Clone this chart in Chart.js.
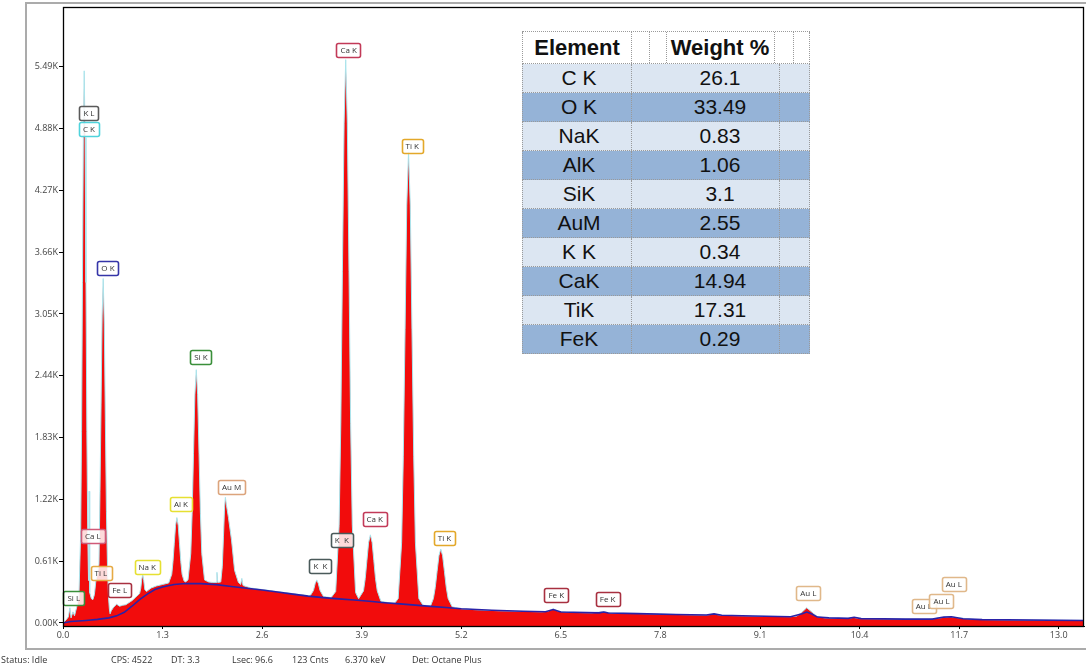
<!DOCTYPE html>
<html><head><meta charset="utf-8">
<script src="https://cdn.jsdelivr.net/npm/chart.js@4.4.0/dist/chart.umd.min.js"></script>
<style>
html,body{margin:0;padding:0;background:#fff;width:1086px;height:669px;overflow:hidden;font-family:"Open Sans",sans-serif;}
#frame{position:absolute;left:25px;top:2px;width:1080px;height:644px;border:2px solid #ababab;border-right:none;}
#c{position:absolute;left:0;top:0;}
#tbl{position:absolute;left:522px;top:31px;width:288px;height:323px;font-family:"Liberation Sans",Arial,sans-serif;color:#111;border-top:1px dotted #9a9a9a;box-sizing:border-box;}
.row{position:absolute;left:0;width:288px;border-bottom:1px dotted #9a9a9a;border-left:1px dotted #9a9a9a;border-right:1px dotted #9a9a9a;box-sizing:border-box;}
.cell{position:absolute;top:0;height:100%;display:flex;align-items:center;justify-content:center;}
.vl{position:absolute;top:0;height:100%;border-left:1px dotted #9a9a9a;}
.st{position:absolute;top:654px;font-size:9px;line-height:12px;color:#333;white-space:nowrap;}
</style></head>
<body>
<div id="frame"></div>
<canvas id="c" width="1086" height="669"></canvas>
<div id="tbl"></div>
<div id="status"></div>
<script>
// ---- spectrum (keV, counts) ----
const energyKeV = [
 0.00,0.04,0.07,0.09,0.105,0.13,0.15,0.18,0.20,
 0.208,0.231,0.2425,0.254,0.2655,0.277,0.2885,0.300,0.3115,0.323,0.333,
 0.338,0.341,0.345,0.352,0.37,0.39,
 0.41,0.43,0.452,0.47,0.483,0.497,0.511,0.525,0.539,0.553,0.567,0.581,0.595,0.605,0.615,
 0.63,0.66,0.70,0.74,0.78,0.82,0.86,0.90,0.95,1.00,
 1.015,1.028,1.041,1.054,1.068,1.09,1.15,1.22,1.30,1.38,
 1.42,1.436,1.453,1.470,1.487,1.504,1.521,1.538,1.555,1.58,1.60,
 1.632,1.668,1.686,1.704,1.722,1.740,1.758,1.776,1.794,1.812,1.848,1.90,1.95,2.00,2.01,2.02,
 2.06,2.08,2.095,2.11,2.12,2.135,2.16,2.20,2.24,2.29,2.32,2.335,2.35,2.45,2.60,2.80,3.00,3.20,
 3.23,3.27,3.293,3.313,3.333,3.356,3.40,3.50,
 3.56,3.605,3.627,3.648,3.670,3.691,3.712,3.734,3.755,3.777,3.82,3.86,
 3.923,3.946,3.968,3.990,4.013,4.036,4.058,4.080,4.103,4.15,4.25,4.33,
 4.376,4.421,4.443,4.466,4.488,4.511,4.534,4.556,4.579,4.601,4.646,4.70,4.80,
 4.836,4.860,4.884,4.908,4.932,4.956,4.980,5.004,5.028,5.08,
 5.20,5.40,5.70,6.00,6.25,6.33,6.40,6.47,6.60,6.90,7.06,7.15,7.40,7.80,8.10,8.40,8.50,8.60,8.90,9.20,9.50,
 9.58,9.64,9.71,9.78,9.85,9.95,10.25,10.32,10.40,10.70,11.00,11.30,11.44,11.58,11.70,11.90,12.30,12.70,13.00,13.33
];
const counts = [
 0,30,60,150,50,110,70,160,240,
 257,900,1890,3360,4790,5450,4790,3360,1890,900,420,
 600,1300,520,300,240,230,
 280,420,500,580,1300,2160,3030,3400,2950,2000,1100,550,250,140,90,
 120,155,185,165,175,180,200,220,255,290,
 340,430,480,420,330,310,345,365,380,395,
 480,605,787,964,1040,964,787,605,480,415,405,
 425,684,1083,1675,2252,2500,2252,1675,1083,684,425,405,400,400,500,400,
 405,560,850,1150,1240,1160,1040,820,520,400,380,440,370,345,330,310,290,270,
 272,320,390,425,390,320,262,250,
 310,963,1972,3471,4933,5560,4933,3471,1972,963,300,240,
 316,438,618,794,870,794,618,438,316,215,200,195,
 240,792,1640,2897,4124,4650,4124,2897,1640,792,240,175,170,
 241,349,508,663,730,663,508,349,241,160,
 140,130,120,115,110,115,140,115,105,100,112,98,95,88,82,78,88,75,70,65,62,
 68,100,150,105,62,50,45,55,43,40,38,36,50,62,50,35,30,28,26,25
];
// ---- fitted background ----
const bgEnergyKeV = [0.00,0.10,0.30,0.45,0.60,0.70,0.80,0.90,1.00,1.10,1.20,1.30,1.45,1.60,1.80,2.00,2.20,2.40,2.60,2.80,3.00,3.20,3.40,3.60,3.80,4.00,4.20,4.40,4.60,4.80,5.00,5.20,5.60,6.00,6.30,6.40,6.50,7.00,7.06,7.12,7.50,8.00,8.40,8.50,8.60,9.00,9.50,9.65,9.71,9.77,9.85,10.00,10.25,10.33,10.42,11.00,11.35,11.50,11.60,11.75,12.00,13.33];
const bgCounts    = [0,15,25,35,50,70,105,165,230,285,330,355,380,390,388,378,360,343,325,305,285,265,250,238,226,214,200,188,176,164,152,140,125,115,110,132,108,100,108,98,92,84,78,90,76,68,62,90,108,90,58,50,45,56,43,38,38,58,62,42,33,25];

// ---- axes ----
const yTickValues = [0,610,1220,1830,2440,3050,3660,4270,4880,5490];
const yTickLabels = ['0.00K','0.61K','1.22K','1.83K','2.44K','3.05K','3.66K','4.27K','4.88K','5.49K'];
const xTickValues = [0,1.3,2.6,3.9,5.2,6.5,7.8,9.1,10.4,11.7,13.0];
const xTickLabels = ['0.0','1.3','2.6','3.9','5.2','6.5','7.8','9.1','10.4','11.7','13.0'];

// ---- peak labels (anchor in keV / counts) ----
const labelTexts    = ['K L','C K','O K','Si K','Ca K','Ti K','Al K','Au M','Ca L','Ti L','Si L','Fe L','Na K','K  K','K  K','Ca K','Ti K','Fe K','Fe K','Au L','Au L','Au L','Au L'];
const labelEnergies = [0.339,0.339,0.587,1.80,3.73,4.56,1.54,2.20,0.39,0.495,0.14,0.74,1.10,3.36,3.64,4.07,4.98,6.44,7.11,9.73,11.24,11.47,11.63];
const labelCounts   = [5034,4876,3504,2625,5655,4708,1175,1342,859,493,247,326,553,563,819,1026,839,276,237,296,168,217,385];
const labelColors   = ['#5a5a5a','#4fd3dc','#3535a8','#3a8f3a','#c23a58','#e3a82a','#e6e032','#dca47c','#cf5a78','#e6aa45','#3a8f3a','#a83040','#e6e032','#4a5a5a','#4a5a5a','#c23a58','#e3a82a','#a83040','#a83040','#e0b88a','#e0b88a','#e0b88a','#e0b88a'];

// ---- table ----
const tableElements = ['C K','O K','NaK','AlK','SiK','AuM','K K','CaK','TiK','FeK'];
const tableWeights  = ['26.1','33.49','0.83','1.06','3.1','2.55','0.34','14.94','17.31','0.29'];

// ---- status bar ----
const statusTexts = ['Status: Idle','CPS: 4522','DT: 3.3','Lsec: 96.6','123 Cnts','6.370 keV','Det: Octane Plus'];
const statusLeft  = [1,111,171,232,292,345,412];

const spectrum = energyKeV.map((e,i)=>({x:e,y:counts[i]}));
const background = bgEnergyKeV.map((e,i)=>({x:e,y:bgCounts[i]}));

const framePlugin = {
  id:'frame',
  afterDraw(chart){
    const {ctx, chartArea:a} = chart;
    ctx.save();
    ctx.strokeStyle = '#000';
    ctx.lineWidth = 1.3;
    ctx.strokeRect(a.left+0.5, a.top+0.5, a.right-a.left-1, a.bottom-a.top);
    ctx.restore();
  }
};
const labelPlugin = {
  id:'peakLabels',
  afterDatasetsDraw(chart){
    const {ctx, scales:{x,y}} = chart;
    ctx.save();
    ctx.font = '8px "Open Sans"';
    ctx.textAlign = 'center';
    ctx.textBaseline = 'middle';
    labelTexts.forEach((t,i)=>{
      const cx = x.getPixelForValue(labelEnergies[i]);
      const cy = y.getPixelForValue(labelCounts[i]);
      const w = Math.max(ctx.measureText(t).width + 8, 19);
      const h = 14;
      ctx.beginPath();
      ctx.roundRect(Math.round(cx - w/2)+0.5, Math.round(cy - h/2)+0.5, Math.round(w), h, 2);
      ctx.fillStyle = 'rgba(255,255,255,0.85)';
      ctx.fill();
      ctx.lineWidth = 1.6;
      ctx.strokeStyle = labelColors[i];
      ctx.stroke();
      ctx.fillStyle = '#333';
      ctx.fillText(t, cx, cy+0.5);
    });
    ctx.restore();
  }
};

new Chart(document.getElementById('c'), {
  type:'line',
  data:{datasets:[
    {data:background, borderColor:'#2a22a8', borderWidth:1.6, pointRadius:0, fill:false, tension:0},
    {data:spectrum, borderColor:'rgba(170,228,236,1)', borderWidth:1, backgroundColor:'#f20c0c', pointRadius:0, fill:'start', tension:0}
  ]},
  options:{
    responsive:false, animation:false, devicePixelRatio:1,
    layout:{padding:{top:7,right:2,left:0,bottom:0}},
    plugins:{legend:{display:false}, tooltip:{enabled:false}},
    scales:{
      x:{type:'linear', min:0, max:13.33,
        afterBuildTicks:s=>{s.ticks = xTickValues.map(v=>({value:v}));},
        afterFit:s=>{s.height = 43;},
        ticks:{callback:(v,i)=>xTickLabels[i], autoSkip:false, maxRotation:0, padding:1, color:'#444', font:{family:'Open Sans', size:9}},
        grid:{display:true, drawOnChartArea:false, drawTicks:true, tickLength:3, color:'#000'},
        border:{display:true, color:'#000'}},
      y:{type:'linear', min:-30, max:6080,
        afterBuildTicks:s=>{s.ticks = yTickValues.map(v=>({value:v}));},
        afterFit:s=>{s.width = 63;},
        ticks:{callback:(v,i)=>yTickLabels[i], autoSkip:false, padding:1, color:'#444', font:{family:'Open Sans', size:9}},
        grid:{display:true, drawOnChartArea:false, drawTicks:true, tickLength:4, color:'#000'},
        border:{display:true, color:'#000'}}
    }
  },
  plugins:[labelPlugin, framePlugin]
});

// build table
(function(){
  const tbl = document.getElementById('tbl');
  function mk(cls, styles, html){const d=document.createElement('div');d.className=cls;Object.assign(d.style,styles);if(html!==undefined)d.textContent=html;return d;}
  const hdr = mk('row',{top:'0px',height:'32px',background:'#fff'});
  hdr.appendChild(mk('cell',{left:'0px',width:'108px',fontWeight:'bold',fontSize:'22px'},'Element'));
  hdr.appendChild(mk('cell',{left:'143px',width:'108px',fontWeight:'bold',fontSize:'22px'},'Weight %'));
  [108,126,143,251,270].forEach(v=>hdr.appendChild(mk('vl',{left:v+'px'})));
  tbl.appendChild(hdr);
  tableElements.forEach((el,i)=>{
    const r = mk('row',{top:(32+i*29)+'px',height:'29px',background:(i%2===0)?'#dce6f2':'#95b3d7'});
    r.appendChild(mk('cell',{left:'2px',width:'108px',fontSize:'21px'},el));
    r.appendChild(mk('cell',{left:'143px',width:'108px',fontSize:'21px'},tableWeights[i]));
    [108,256].forEach(v=>r.appendChild(mk('vl',{left:v+'px'})));
    tbl.appendChild(r);
  });
  const st = document.getElementById('status');
  statusTexts.forEach((t,i)=>{const d=mk('st',{left:statusLeft[i]+'px'},t);st.appendChild(d);});
})();
</script>
</body></html>
